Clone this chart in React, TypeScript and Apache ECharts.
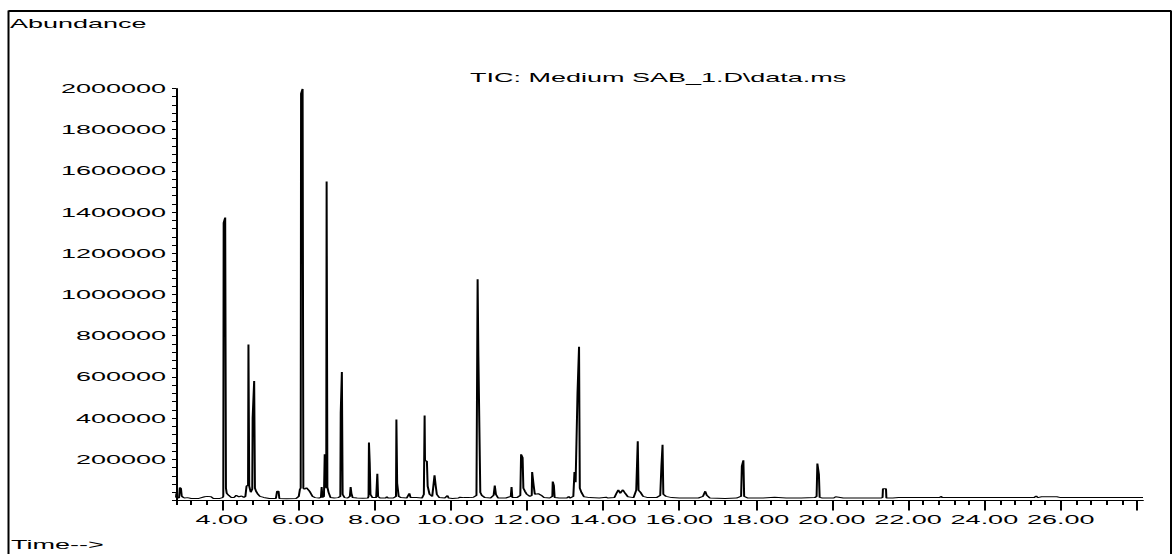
import React, { useEffect, useRef } from "react";
import * as echarts from "echarts";

// Chromatogram (total ion current) of one GC-MS run.
const TITLE = "TIC: Medium SAB_1.D\\data.ms";
const Y_NAME = "Abundance";
const X_NAME = "Time-->";

const TIME_MIN = 2.8;
const TIME_MAX = 28.16;
const ABUNDANCE_MAX = 2000000;

const X_LABEL_VALUES = [4, 6, 8, 10, 12, 14, 16, 18, 20, 22, 24, 26];
const X_MAJOR_TICKS = [4, 6, 8, 10, 12, 14, 16, 18, 20, 22, 24, 26, 28];
const X_MINOR_STEP = 0.4;
const X_MINOR_COUNT = 64;
const Y_LABEL_VALUES = [
  200000, 400000, 600000, 800000, 1000000, 1200000, 1400000, 1600000, 1800000, 2000000,
];
const Y_MINOR_STEP = 40000;

// [retention time (min), abundance]
const TIC: [number, number][] = [
  [2.8, 14000], [2.81, 35000], [2.83, 15000], [2.88, 12000], [2.9, 63000], [2.93, 58000],
  [2.95, 22000], [2.98, 16000], [3.02, 12000], [3.1, 14000], [3.2, 10000], [3.4, 10000],
  [3.55, 18000], [3.62, 20000], [3.72, 18000], [3.78, 10000], [3.95, 10000], [4.02, 14000],
  [4.04, 20000], [4.05, 1348000], [4.07, 1348000], [4.09, 1374000], [4.11, 60000],
  [4.13, 35000], [4.18, 25000], [4.25, 15000], [4.32, 14000], [4.38, 25000], [4.45, 18000],
  [4.52, 22000], [4.58, 15000], [4.62, 20000], [4.65, 70000], [4.69, 75000], [4.7, 757000],
  [4.72, 70000], [4.76, 40000], [4.8, 55000], [4.81, 400000], [4.83, 400000], [4.85, 580000],
  [4.87, 60000], [4.9, 45000], [4.95, 30000], [5.0, 20000], [5.1, 15000], [5.25, 10000],
  [5.42, 10000], [5.45, 45000], [5.49, 45000], [5.51, 10000], [5.7, 9000], [5.95, 10000],
  [6.02, 20000], [6.05, 55000], [6.07, 60000], [6.08, 1975000], [6.1, 1975000],
  [6.12, 1998000], [6.14, 60000], [6.17, 55000], [6.22, 62000], [6.28, 50000],
  [6.32, 40000], [6.38, 20000], [6.45, 14000], [6.55, 12000], [6.6, 15000], [6.62, 65000],
  [6.64, 15000], [6.68, 20000], [6.7, 225000], [6.72, 225000], [6.74, 60000],
  [6.75, 1549000], [6.77, 65000], [6.8, 40000], [6.85, 15000], [6.95, 12000], [7.05, 14000],
  [7.11, 20000], [7.12, 423000], [7.14, 423000], [7.15, 624000], [7.17, 30000],
  [7.22, 14000], [7.3, 12000], [7.36, 20000], [7.38, 65000], [7.4, 35000], [7.43, 15000],
  [7.55, 12000], [7.7, 11000], [7.83, 12000], [7.85, 20000], [7.86, 282000], [7.88, 186000],
  [7.9, 30000], [7.95, 14000], [8.05, 14000], [8.08, 130000], [8.1, 20000], [8.15, 12000],
  [8.3, 12000], [8.33, 18000], [8.36, 12000], [8.5, 12000], [8.57, 20000], [8.58, 393000],
  [8.6, 84000], [8.62, 84000], [8.64, 20000], [8.7, 14000], [8.85, 12000], [8.92, 35000],
  [8.95, 15000], [9.1, 14000], [9.25, 12000], [9.3, 30000], [9.32, 413000], [9.33, 195000],
  [9.38, 190000], [9.4, 70000], [9.45, 30000], [9.52, 20000], [9.58, 122000], [9.61, 73000],
  [9.64, 30000], [9.7, 15000], [9.85, 12000], [9.92, 24000], [9.95, 12000], [10.05, 10000],
  [10.2, 12000], [10.25, 16000], [10.35, 14000], [10.5, 14000], [10.6, 16000],
  [10.68, 25000], [10.71, 1074000], [10.73, 700000], [10.76, 700000], [10.78, 40000],
  [10.82, 25000], [10.9, 14000], [11.05, 12000], [11.13, 25000], [11.16, 73000],
  [11.19, 30000], [11.25, 12000], [11.45, 12000], [11.58, 20000], [11.6, 65000],
  [11.62, 15000], [11.75, 15000], [11.83, 25000], [11.85, 224000], [11.89, 208000],
  [11.91, 60000], [11.95, 45000], [12.0, 30000], [12.08, 20000], [12.13, 25000],
  [12.14, 138000], [12.18, 73000], [12.21, 30000], [12.3, 33000], [12.38, 25000],
  [12.45, 15000], [12.6, 12000], [12.67, 20000], [12.68, 92000], [12.71, 73000],
  [12.73, 15000], [12.85, 12000], [13.05, 12000], [13.1, 20000], [13.13, 12000],
  [13.22, 20000], [13.25, 138000], [13.28, 89000], [13.31, 89000], [13.33, 522000],
  [13.36, 522000], [13.37, 746000], [13.39, 60000], [13.43, 40000], [13.5, 18000],
  [13.65, 14000], [13.9, 12000], [14.08, 16000], [14.12, 12000], [14.3, 15000],
  [14.35, 35000], [14.4, 52000], [14.45, 35000], [14.52, 52000], [14.58, 35000],
  [14.65, 18000], [14.8, 14000], [14.87, 50000], [14.91, 288000], [14.93, 50000],
  [14.98, 40000], [15.05, 20000], [15.15, 15000], [15.4, 14000], [15.5, 25000],
  [15.53, 165000], [15.56, 271000], [15.58, 30000], [15.65, 20000], [15.8, 14000],
  [16.0, 12000], [16.5, 12000], [16.62, 20000], [16.68, 45000], [16.72, 25000],
  [16.8, 12000], [17.2, 10000], [17.5, 12000], [17.58, 18000], [17.62, 20000],
  [17.64, 167000], [17.68, 195000], [17.7, 20000], [17.8, 12000], [18.2, 12000],
  [18.5, 16000], [18.8, 12000], [19.2, 12000], [19.55, 14000], [19.6, 20000],
  [19.62, 179000], [19.66, 127000], [19.68, 15000], [19.75, 12000], [20.05, 12000],
  [20.1, 18000], [20.3, 12000], [20.8, 12000], [21.3, 12000], [21.33, 15000],
  [21.34, 57000], [21.42, 57000], [21.43, 12000], [21.6, 12000], [21.75, 14000],
  [22.5, 14000], [22.83, 14000], [22.86, 20000], [22.9, 14000], [24.0, 14000],
  [25.3, 14000], [25.36, 22000], [25.4, 14000], [25.5, 18000], [25.9, 18000],
  [26.0, 14000], [28.16, 14000],
];

const FONT = "'Liberation Sans', Arial, sans-serif";
const INK = "#000";

// The plot is laid out at half width and stretched 2x horizontally.
const BASE_WIDTH = 586;
const HEIGHT = 554;

export default function App() {
  const ref = useRef<HTMLDivElement>(null);

  useEffect(() => {
    if (!ref.current) return;
    const chart = echarts.init(ref.current, undefined, { renderer: "svg" });

    const minorTicks = Array.from({ length: X_MINOR_COUNT }, (_, i) =>
      Number((TIME_MIN + i * X_MINOR_STEP).toFixed(2))
    );

    const labelStyle = { color: INK, fontFamily: FONT, fontSize: 13.5 };

    chart.setOption({
      animation: false,
      textStyle: { fontFamily: FONT },
      grid: { left: 88, right: 14.5, top: 88.5, bottom: 53.5, containLabel: false },
      xAxis: [
        {
          type: "value",
          min: TIME_MIN,
          max: TIME_MAX,
          position: "bottom",
          axisLine: { show: true, onZero: false, lineStyle: { color: INK, width: 1 } },
          axisTick: {
            show: true,
            customValues: minorTicks,
            length: 4.5,
            lineStyle: { color: INK, width: 1 },
          },
          axisLabel: { show: false },
          splitLine: { show: false },
        },
        {
          type: "value",
          min: TIME_MIN,
          max: TIME_MAX,
          position: "bottom",
          axisLine: { show: false, onZero: false },
          axisTick: {
            show: true,
            customValues: X_MAJOR_TICKS,
            length: 10,
            lineStyle: { color: INK, width: 1 },
          },
          axisLabel: {
            ...labelStyle,
            customValues: X_LABEL_VALUES,
            margin: 12,
            formatter: (v: number) => v.toFixed(2),
          },
          splitLine: { show: false },
        },
      ],
      yAxis: {
        type: "value",
        min: 0,
        max: ABUNDANCE_MAX,
        interval: Y_MINOR_STEP,
        axisLine: { show: true, onZero: false, lineStyle: { color: INK, width: 1 } },
        axisTick: { show: true, length: 2, lineStyle: { color: INK, width: 1 } },
        axisLabel: {
          ...labelStyle,
          customValues: Y_LABEL_VALUES,
          margin: 5,
          formatter: (v: number) => String(v),
        },
        splitLine: { show: false },
      },
      series: [
        {
          type: "line",
          name: "TIC",
          xAxisIndex: 0,
          data: TIC,
          symbol: "none",
          showSymbol: false,
          lineStyle: { color: INK, width: 1 },
          clip: true,
        },
      ],
      graphic: [
        {
          type: "polyline",
          silent: true,
          shape: { points: [[4.25, HEIGHT], [4.25, 11], [585.5, 11], [585.5, HEIGHT]] },
          style: { stroke: INK, lineWidth: 1, fill: "none" },
        },
        {
          type: "line",
          silent: true,
          shape: { x1: 4.25, y1: 11, x2: 585.5, y2: 11 },
          style: { stroke: INK, lineWidth: 2 },
        },
        {
          type: "text",
          left: 5,
          top: 17,
          style: { text: Y_NAME, fill: INK, font: `13.5px ${FONT}` },
        },
        {
          type: "text",
          left: 235,
          top: 71,
          style: { text: TITLE, fill: INK, font: `13.5px ${FONT}` },
        },
        {
          type: "text",
          left: 5.5,
          top: 538,
          style: { text: X_NAME, fill: INK, font: `13.5px ${FONT}` },
        },
      ],
    });

    return () => chart.dispose();
  }, []);

  return (
    <div
      ref={ref}
      style={{
        position: "fixed",
        left: 0,
        top: 0,
        width: BASE_WIDTH,
        height: HEIGHT,
        transform: "scaleX(2)",
        transformOrigin: "0 0",
        background: "#fff",
      }}
    />
  );
}
